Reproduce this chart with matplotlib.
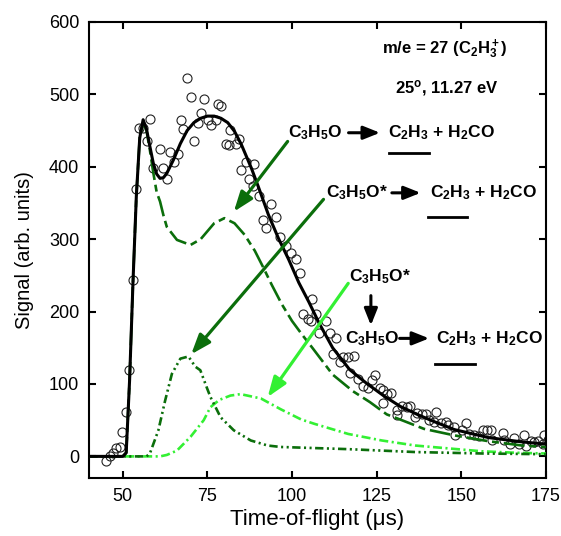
import matplotlib
matplotlib.use("Agg")
import matplotlib.pyplot as plt

plt.rcParams["font.family"] = ["Liberation Sans", "DejaVu Sans"]
plt.rcParams["mathtext.fontset"] = "custom"
plt.rcParams["mathtext.rm"] = "Liberation Sans:bold"
plt.rcParams["mathtext.it"] = "Liberation Sans:bold"
plt.rcParams["mathtext.bf"] = "Liberation Sans:bold"
plt.rcParams["lines.scale_dashes"] = False

# measured time-of-flight points (us, arb. units)
tof_data = [44.9, 46.1, 47.1, 48.1, 49.1, 49.9, 50.9, 51.9, 52.9, 53.9,
            54.9, 55.9, 57.1, 58.0, 58.8, 61.0, 62.0, 63.0, 64.0, 65.2,
            66.2, 67.1, 67.9, 69.1, 70.0, 71.1, 72.1, 73.1, 74.1, 75.1,
            76.1, 77.4, 78.1, 79.1, 80.4, 81.4, 81.8, 83.3, 84.3, 85.0,
            86.3, 87.3, 88.5, 88.8, 90.3, 91.3, 92.3, 93.8, 95.2, 96.5,
            98.2, 99.7, 101.2, 102.4, 103.3, 104.7, 105.7, 105.9, 107.1, 108.1,
            110.1, 111.1, 112.1, 113.1, 114.1, 115.1, 116.6, 117.1, 118.4, 119.5,
            121.0, 122.5, 123.5, 124.5, 126.0, 127.0, 127.0, 128.0, 129.3, 131.0,
            131.0, 132.4, 133.9, 134.9, 136.4, 136.9, 138.4, 139.6, 140.4, 141.9,
            142.4, 143.9, 145.4, 146.1, 147.8, 148.3, 150.3, 151.3, 152.3, 153.8,
            155.3, 156.3, 157.7, 158.7, 159.2, 162.2, 162.7, 164.3, 165.7, 167.2,
            168.6, 169.2, 170.6, 171.6, 172.6, 174.1, 174.6, 175.6]
sig_data = [-6, 0, 4, 11, 13, 33, 61, 119, 244, 369,
            453, 453, 436, 466, 398, 424, 398, 383, 420, 406,
            418, 465, 452, 523, 496, 435, 460, 474, 494, 464,
            458, 465, 487, 484, 432, 430, 451, 432, 439, 396,
            406, 383, 373, 404, 360, 327, 315, 349, 330, 303,
            290, 281, 272, 253, 197, 190, 187, 217, 197, 170,
            187, 171, 142, 163, 130, 137, 137, 115, 138, 107,
            97, 95, 105, 112, 94, 92, 74, 86, 87, 64,
            57, 69, 68, 69, 54, 60, 58, 58, 50, 47,
            62, 46, 47, 44, 41, 29, 36, 46, 31, 29,
            28, 36, 37, 36, 22, 32, 22, 17, 26, 17,
            29, 15, 21, 20, 21, 17, 29, 23]

# total fit
tof_total = [40, 50, 51, 52, 53, 54, 55, 56, 57, 58, 59, 60, 61, 62, 63, 65, 67, 69,
             71, 73, 75, 77, 79, 81, 83, 85, 88, 90, 93, 96, 99, 102, 105, 108,
             112, 117, 122, 127, 132, 137, 142, 148, 158, 168, 175]
sig_total = [0, 0, 5, 105, 240, 360, 440, 465, 452, 428, 405, 390, 384, 385, 391, 410, 432, 450,
             461, 467, 470, 470, 467, 461, 449, 431, 398, 373, 334, 301, 272, 240, 213, 184,
             150, 120, 101, 84, 69, 58, 48, 37, 26, 20, 17]

# C3H5O -> C2H3 + H2CO (fast channel)
tof_fast = [50, 51, 52, 53, 54, 55, 56, 57, 58, 59, 60, 61, 62, 63, 66, 70, 73, 77, 80,
            83, 86, 89, 91.5, 94, 97, 100, 103, 106, 112, 118, 123, 128, 133, 139,
            148, 158, 168, 175]
sig_fast = [0, 5, 105, 240, 360, 440, 462, 450, 423, 392, 365, 352, 333, 317, 299, 292, 300, 322, 329,
            322, 306, 284, 261, 237, 210, 187, 168, 150, 113, 90, 75, 58, 49, 38,
            29, 21, 15, 13]

# C3H5O* -> C2H3 + H2CO
tof_star = [40, 57, 58, 60.5, 62.5, 64.5, 67, 69.4, 71.4, 72.9, 74.9, 75.9, 78.9, 82.8,
            87.8, 92.8, 96.7, 116.6, 136.4, 156.2, 175]
sig_star = [0, 0, 4, 36, 77, 114, 135, 138, 124, 119, 94, 82, 54, 36,
            22, 15, 13, 10, 6, 4, 3]

# C3H5O* -> C3H5O -> C2H3 + H2CO
tof_seq = [40, 61, 63, 66, 70, 73.9, 75.9, 78.5, 81.8, 84.8, 90.8, 96.7, 102.7, 106.6,
           116.6, 126.5, 136.4, 146.3, 156.2, 166.2, 175]
sig_seq = [0, 0, 2, 8, 27, 50, 68, 78, 84, 86, 80, 65, 51, 45,
           31, 22, 15, 11, 7, 5, 4]

dark_green = "#0b6e0b"
light_green = "#33f033"

fig = plt.figure(figsize=(5.61, 5.36), dpi=100)
ax = fig.add_axes([0.1586, 0.108, 0.8144, 0.851])

ax.plot(tof_data, sig_data, "o", ms=6.5, mfc="none", mec="#222222", mew=0.8, zorder=2)
ax.plot(tof_seq, sig_seq, color=light_green, lw=1.9, dashes=(6.5, 2.5, 1.5, 2.5), zorder=3)
ax.plot(tof_star, sig_star, color=dark_green, lw=1.9,
        dashes=(6, 2.5, 1.5, 2.5, 1.5, 2.5), zorder=3)
ax.plot(tof_fast, sig_fast, color=dark_green, lw=1.9, dashes=(15, 3.5, 5, 3.5), zorder=3)
ax.plot(tof_total, sig_total, color="black", lw=2.2, zorder=4)

ax.set_xlim(40, 175)
ax.set_ylim(-30, 600)
ax.set_xticks([50, 75, 100, 125, 150, 175])
ax.set_yticks([0, 100, 200, 300, 400, 500, 600])
ax.tick_params(direction="in", length=5, width=1.5, labelsize=13,
               top=True, right=True, pad=7)
for s in ax.spines.values():
    s.set_linewidth(1.5)

ax.set_xlabel("Time-of-flight (\u03bcs)", fontsize=16, labelpad=3)
ax.set_ylabel("Signal (arb. units)", fontsize=14.5)
ax.yaxis.set_label_coords(-0.12, 0.5)


def pointer(x0, y0, x1, y1, color, head="-|>,head_length=0.6,head_width=0.22", lw=2.3):
    ax.annotate("", xy=(x1, y1), xytext=(x0, y0),
                arrowprops=dict(arrowstyle=head, color=color, lw=lw,
                                shrinkA=0, shrinkB=0, mutation_scale=20), zorder=6)


txt = dict(fontsize=12.5, fontweight="bold", va="center", ha="left", zorder=7)
react_head = "-|>,head_length=0.5,head_width=0.2"

ax.text(126.5, 562, r"m/e = 27 (C$_2$H$_3^+$)", **dict(txt, fontsize=12))
ax.text(130.4, 509, r"25$^o$, 11.27 eV", **dict(txt, fontsize=12))

# reaction 1
ax.text(98.8, 447, r"C$_3$H$_5$O", **txt)
pointer(116.7, 447, 126.0, 447, "black", react_head, 2.2)
ax.text(128.3, 447, r"C$_2$H$_3$ + H$_2$CO", **txt)
ax.plot([128.6, 140.5], [419, 419], color="black", lw=2)
pointer(98.7, 435, 82.8, 338, dark_green)

# reaction 2
ax.text(110.1, 364, r"C$_3$H$_5$O*", **txt)
pointer(129.5, 364, 138.0, 364, "black", react_head, 2.2)
ax.text(140.8, 364, r"C$_2$H$_3$ + H$_2$CO", **txt)
ax.plot([140.2, 151.8], [331, 331], color="black", lw=2)
pointer(109.3, 355, 70.2, 141, dark_green)

# reaction 3
ax.text(116.7, 248, r"C$_3$H$_5$O*", **txt)
pointer(123.3, 222, 123.3, 181, "black", react_head, 2.2)
ax.text(115.6, 163, r"C$_3$H$_5$O", **txt)
pointer(131.8, 163, 140.5, 163, "black", react_head, 2.2)
ax.text(142.6, 163, r"C$_2$H$_3$ + H$_2$CO", **txt)
ax.plot([142.3, 154.2], [128, 128], color="black", lw=2)
pointer(116.6, 239, 92.8, 82, light_green)

fig.savefig("out.png", dpi=100)
